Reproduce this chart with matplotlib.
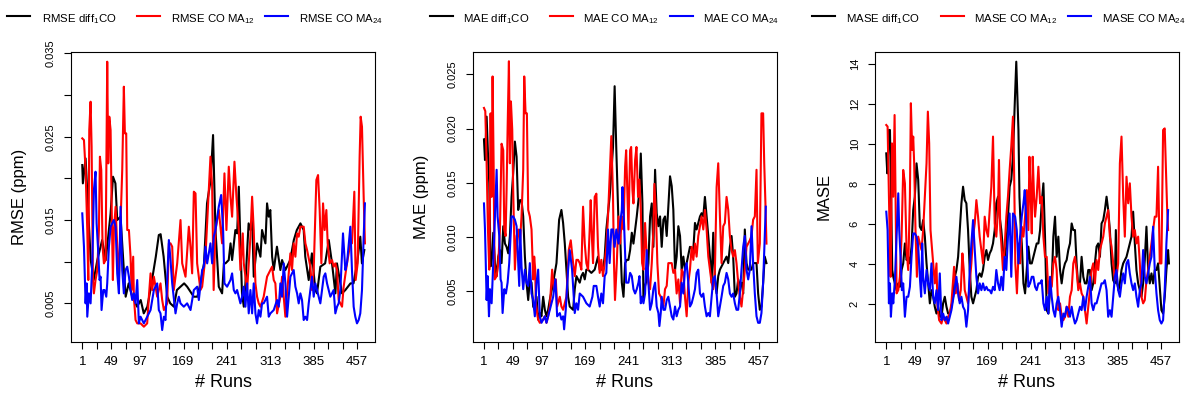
import numpy as np
import matplotlib.pyplot as plt
from matplotlib.lines import Line2D

plt.rcParams['font.family'] = ['Liberation Sans', 'DejaVu Sans']
plt.rcParams['mathtext.fontset'] = 'custom'
plt.rcParams['mathtext.rm'] = 'Liberation Sans'
plt.rcParams['mathtext.default'] = 'regular'

# x axis
tick_runs = list(range(1, 470, 24))
label_runs = [1, 49, 97, 169, 241, 313, 385, 457]

# RMSE (ppm): (run, value)
rmse_diff = [(1,.0216),(2,.0194),(6.5,.0224),(15,.0102),(20,.0078),(26,.0102),(34,.0126),(40,.0102),(48,.0158),(52,.0202),(56,.0194),(59,.0150),(64.5,.0154),(70,.0090),(73,.0058),(78,.0074),(84,.0058),(92,.0046),(98,.0054),(103,.0038),(109,.0046),(114,.0066),(123,.0106),(128,.0132),(131,.0133),(136,.0106),(142,.0058),(147,.0050),(153,.0046),(158,.0066),(164,.0070),(170,.0074),(175,.0070),(186,.0058),(192,.0058),(197,.0074),(203,.0098),(208,.0170),(214,.0198),(218,.0252),(222,.0138),(227.5,.0070),(233,.0062),(236,.0098),(238.6,.0098),(244,.0102),(247,.0122),(249.6,.0102),(255,.0138),(258,.0134),(260.7,.0190),(263.4,.0122),(266,.0062),(269,.0046),(271.7,.0074),(277,.0146),(280,.0138),(283,.0150),(285.5,.0082),(291,.0122),(296.6,.0106),(299.3,.0138),(304.9,.0122),(307.6,.0170),(310.4,.0154),(313,.0162),(316,.0106),(318.7,.0090),(324,.0118),(329.7,.0090),(332.5,.0102),(338,.0090),(346,.0102),(352,.0126),(357,.0138),(363,.0146),(368.4,.0138),(371,.0106),(376.7,.0078),(382,.0110),(387.7,.0066),(390.5,.0062),(396,.0094),(404,.0098),(410,.0126),(415.4,.0098),(421,.0062),(423.6,.0098),(432,.0062),(437.5,.0066),(446,.0074),(451,.0074),(457,.0098),(462.3,.0130),(465,.0098),(469,.0114)]
rmse_ma12 = [(1,.0248),(3.8,.0246),(6.5,.0210),(9.3,.0138),(11,.0078),(12.6,.0258),(14.8,.0292),(16.5,.0238),(18.7,.0078),(20.3,.0062),(23,.0078),(25.9,.0090),(28.6,.0138),(30.3,.0226),(32.5,.0210),(34.7,.0118),(36.9,.0098),(39.7,.0102),(42.4,.0340),(44.1,.0218),(45.8,.0274),(48,.0258),(49.6,.0174),(51.8,.0078),(53.5,.0138),(56.3,.0166),(59,.0118),(61.8,.0078),(64.5,.0146),(67.3,.0210),(70,.0310),(71.7,.0254),(73.9,.0254),(75.6,.0138),(78.4,.0138),(81.1,.0106),(82.8,.0066),(85.5,.0106),(86.6,.0058),(89.4,.0030),(92.2,.0026),(97.7,.0026),(103.2,.0022),(108.7,.0026),(111.5,.0058),(114.3,.0086),(117,.0066),(119.8,.0082),(125.3,.0058),(130.8,.0074),(133.6,.0054),(136.4,.0042),(141.9,.0050),(144.7,.0122),(147.4,.0122),(150.2,.0118),(152.9,.0066),(158.5,.0098),(164,.0150),(166.8,.0098),(172.3,.0082),(177.8,.0142),(180.6,.0118),(183.3,.0086),(186.1,.0184),(188.9,.0182),(191.6,.0098),(197.1,.0066),(199.9,.0070),(205.4,.0106),(208.2,.0146),(213.7,.0226),(216.5,.0190),(219,.0066),(222,.0138),(227.5,.0162),(233,.0122),(236.9,.0206),(240.2,.0138),(244.1,.0214),(246.9,.0178),(249.6,.0154),(253.5,.0220),(256.8,.0178),(260.7,.0138),(263.4,.0090),(267.3,.0134),(269,.0098),(274.5,.0066),(280,.0130),(282.8,.0178),(285.5,.0138),(288.3,.0074),(291,.0058),(293.8,.0050),(296.6,.0046),(302,.0058),(307.6,.0082),(310.4,.0086),(313.2,.0090),(315.9,.0094),(318.7,.0078),(321.4,.0074),(324.2,.0038),(329.7,.0058),(332.5,.0082),(338,.0034),(340.8,.0062),(346.3,.0110),(349,.0090),(351.8,.0122),(354.6,.0106),(357.4,.0134),(360.1,.0130),(362.9,.0142),(368.4,.0142),(371.2,.0122),(374,.0114),(379.5,.0094),(382.2,.0066),(385,.0090),(389.4,.0198),(392.2,.0204),(394.9,.0162),(397.7,.0098),(400.5,.0170),(403.2,.0138),(406,.0162),(408.2,.0122),(411.5,.0098),(415.4,.0102),(418.1,.0094),(420.9,.0098),(423.7,.0090),(426.4,.0054),(429.2,.0050),(432,.0046),(434.7,.0070),(440.2,.0098),(445.8,.0122),(448.5,.0122),(452.4,.0184),(454.6,.0078),(457.9,.0098),(461.2,.0226),(462.9,.0274),(465.1,.0262),(467.9,.0178),(470,.0122)]
rmse_ma24 = [(1,.0158),(3.8,.0118),(6.5,.0050),(8.2,.0074),(9.3,.0034),(12,.0062),(14.8,.0050),(17.6,.0098),(20.3,.0186),(23,.0208),(24.8,.0146),(27,.0118),(29.7,.0078),(31.4,.0082),(33,.0042),(35.8,.0066),(38,.0066),(40.8,.0058),(42.4,.0074),(45.2,.0118),(48,.0142),(50.7,.0146),(53.5,.0150),(56.3,.0142),(59,.0086),(61.8,.0062),(64.5,.0166),(67.3,.0090),(70,.0062),(72.8,.0090),(75.6,.0094),(78.4,.0082),(81.1,.0066),(83.9,.0054),(86.6,.0062),(89.4,.0050),(92.2,.0078),(94.9,.0026),(97.7,.0034),(103.2,.0026),(108.7,.0034),(114.3,.0042),(119.8,.0066),(125.3,.0074),(128,.0042),(130.8,.0038),(133.6,.0018),(136.4,.0034),(139.1,.0030),(144.7,.0126),(147.4,.0102),(150.2,.0074),(155.7,.0038),(158.5,.0050),(161.2,.0058),(164,.0050),(169.5,.0046),(175,.0050),(180.6,.0042),(186.1,.0066),(191.6,.0070),(194.4,.0054),(199.9,.0090),(202.6,.0094),(205.4,.0118),(208.2,.0098),(213.7,.0122),(216.5,.0098),(219.2,.0130),(222,.0138),(227.5,.0166),(231.4,.0180),(234.7,.0138),(236.9,.0074),(241.3,.0070),(246.9,.0078),(249.6,.0086),(252.4,.0066),(255.1,.0062),(257.9,.0066),(260.7,.0058),(263.4,.0050),(266.2,.0058),(269,.0070),(271.7,.0046),(274.5,.0074),(277.2,.0038),(280,.0066),(282.8,.0038),(285.5,.0074),(288.3,.0038),(291,.0026),(293.8,.0042),(296.6,.0034),(299.3,.0050),(302,.0050),(304.9,.0054),(307.6,.0058),(310.4,.0034),(313.2,.0038),(318.7,.0042),(324.2,.0054),(327,.0046),(329.7,.0074),(332.5,.0058),(335.2,.0098),(338,.0074),(340.8,.0034),(346.3,.0082),(351.8,.0090),(354.6,.0070),(357.4,.0062),(360.1,.0050),(362.9,.0062),(365.6,.0054),(368.4,.0030),(371.2,.0034),(374,.0030),(376.7,.0050),(382.2,.0082),(385,.0058),(387.7,.0074),(390.5,.0066),(396,.0050),(401.6,.0082),(404.3,.0086),(407.1,.0074),(409.8,.0066),(412.6,.0058),(418.1,.0066),(420.9,.0038),(423.7,.0046),(426.4,.0050),(429.2,.0066),(433.6,.0134),(437.5,.0090),(440.2,.0098),(445.8,.0142),(448.5,.0090),(451.3,.0046),(454,.0034),(456.8,.0026),(459.6,.0030),(462.3,.0038),(465.1,.0066),(467.9,.0130),(470,.0170)]

# MAE (ppm)
mae_diff = [(1,.0190),(2.7,.0171),(5.4,.0211),(8.2,.0168),(9.8,.0150),(12,.0073),(14.8,.0082),(16.4,.0104),(19.2,.0076),(22,.0064),(24.7,.0082),(27.5,.0088),(30.2,.0076),(33,.0110),(35.8,.0094),(38.5,.0091),(41.3,.0085),(44,.0101),(46.8,.0137),(49.5,.0159),(52.3,.0188),(55.1,.0174),(57.8,.0125),(60.6,.0134),(63.3,.0134),(66.1,.0119),(68.9,.0082),(71.6,.0058),(74.4,.0042),(77.1,.0061),(79.9,.0058),(82.7,.0036),(85.4,.0033),(88.2,.0045),(90.9,.0024),(93.7,.0030),(96.4,.0027),(99.2,.0045),(102,.0033),(104.7,.0027),(107.5,.0033),(110.2,.0042),(115.8,.0058),(121.3,.0076),(125.7,.0116),(129.5,.0125),(132.3,.0113),(135.1,.0094),(137.8,.0070),(140.6,.0045),(143.3,.0036),(148.9,.0033),(151.6,.0052),(154.4,.0064),(159.9,.0058),(162.6,.0064),(165.4,.0067),(168.2,.0061),(170.9,.0070),(173.7,.0070),(179.2,.0067),(184.7,.0070),(190.2,.0082),(193,.0070),(198.5,.0070),(201.3,.0082),(204,.0107),(206.8,.0122),(209.5,.0137),(212.3,.0159),(215.1,.0183),(217.8,.0239),(220.6,.0180),(224.2,.0113),(227,.0101),(229.7,.0058),(232.5,.0045),(235.2,.0076),(238,.0079),(240.7,.0079),(243.5,.0088),(246.3,.0104),(249,.0094),(254.5,.0119),(259,.0143),(261.2,.0177),(263.9,.0131),(265.6,.0042),(268.3,.0055),(271.1,.0061),(273.8,.0076),(276.6,.0119),(279.4,.0131),(282.1,.0091),(284.9,.0162),(287.6,.0122),(290.4,.0110),(293.2,.0119),(295.9,.0091),(298.7,.0116),(301.4,.0119),(304.2,.0101),(306.9,.0128),(309.7,.0156),(312.5,.0147),(315.2,.0125),(318,.0070),(320.7,.0082),(323.5,.0110),(326.3,.0101),(329,.0070),(331.8,.0082),(334.5,.0070),(337.3,.0076),(342.8,.0091),(348.3,.0088),(351.1,.0113),(353.8,.0107),(359.4,.0119),(362.1,.0122),(364.9,.0119),(367.6,.0137),(370.4,.0119),(373.2,.0101),(375.9,.0082),(378.7,.0058),(381.4,.0104),(384.2,.0061),(387,.0048),(389.7,.0064),(392.5,.0070),(398,.0076),(403.5,.0082),(406.3,.0076),(409,.0091),(411.8,.0101),(414.5,.0082),(417.3,.0045),(420,.0048),(422.8,.0061),(425.6,.0055),(428.3,.0058),(431.1,.0048),(433.8,.0107),(436.6,.0076),(439.4,.0070),(444.9,.0070),(447.6,.0076),(453.2,.0076),(455.9,.0048),(458.7,.0033),(461.4,.0036),(464.2,.0058),(466.9,.0082),(469.7,.0076)]
mae_ma12 = [(1,.0219),(3.2,.0216),(5.4,.0168),(7.6,.0107),(9.8,.0070),(12,.0214),(13.7,.0137),(15.3,.0248),(17,.0168),(18.7,.0061),(22,.0064),(24.7,.0076),(27.5,.0107),(30.2,.0186),(33,.0180),(34.7,.0107),(36.9,.0101),(38.5,.0143),(40.2,.0199),(42.4,.0262),(44,.0168),(45.7,.0225),(47.9,.0199),(49.5,.0143),(52.3,.0070),(55.1,.0101),(57.8,.0107),(60.6,.0094),(63.3,.0119),(66.1,.0162),(67.8,.0248),(70,.0214),(72.2,.0214),(74.4,.0125),(77.1,.0119),(79.9,.0107),(82.7,.0061),(84.3,.0082),(86,.0070),(87.1,.0039),(90.9,.0024),(93.7,.0021),(99.2,.0024),(102,.0027),(104.7,.0021),(107.5,.0027),(110.2,.0036),(114.1,.0070),(116.9,.0052),(120.2,.0061),(122.4,.0036),(126.8,.0045),(129.5,.0036),(132.3,.0033),(137.8,.0045),(141.7,.0088),(145,.0097),(148.9,.0076),(151.6,.0064),(154.4,.0079),(157.1,.0079),(159.9,.0076),(162.6,.0070),(165.4,.0128),(168.2,.0094),(170.9,.0076),(173.7,.0070),(176.4,.0107),(178.1,.0134),(180.3,.0097),(182,.0076),(184.7,.0137),(187.5,.0140),(190.2,.0091),(193,.0067),(195.7,.0079),(198.5,.0064),(201.3,.0076),(204,.0091),(206.8,.0119),(209.5,.0156),(212.3,.0193),(215.1,.0137),(216.7,.0076),(218.4,.0042),(221.4,.0076),(224.2,.0119),(227,.0094),(229.7,.0119),(232.5,.0107),(235.2,.0165),(236.9,.0180),(239.1,.0137),(240.7,.0107),(243.5,.0180),(245.2,.0183),(247.4,.0143),(249,.0131),(251.8,.0171),(254,.0183),(256.7,.0137),(258.9,.0153),(261.2,.0125),(263.4,.0076),(265.6,.0070),(268.3,.0113),(271.1,.0082),(273.8,.0058),(276.6,.0052),(279.4,.0076),(282.1,.0107),(283.8,.0149),(286.5,.0119),(288.7,.0076),(291.5,.0048),(294.3,.0045),(297,.0039),(298.7,.0036),(301.4,.0052),(304.2,.0055),(306.9,.0076),(312.5,.0076),(315.2,.0067),(318,.0070),(320.7,.0048),(323.5,.0061),(326.3,.0039),(329,.0070),(331.8,.0067),(334.5,.0045),(337.3,.0027),(340,.0058),(342.8,.0070),(345.6,.0091),(348.3,.0079),(351.1,.0094),(353.8,.0082),(356.6,.0101),(359.4,.0110),(362.1,.0119),(364.9,.0107),(367.6,.0125),(370.4,.0107),(373.2,.0082),(375.9,.0070),(378.7,.0058),(381.4,.0052),(384.2,.0070),(387,.0146),(389.7,.0168),(392.5,.0119),(395.2,.0076),(398,.0110),(400.7,.0113),(403.5,.0137),(406.3,.0125),(409,.0101),(411.8,.0088),(414.5,.0082),(417.3,.0088),(420,.0076),(422.8,.0058),(425.6,.0045),(428.3,.0036),(431.1,.0052),(433.8,.0070),(436.6,.0091),(439.4,.0094),(442.1,.0097),(444.9,.0101),(447.6,.0116),(450.4,.0119),(453.2,.0162),(455.4,.0076),(458.7,.0094),(461.4,.0214),(464.2,.0214),(466,.0168),(468,.0131),(469.7,.0094)]
mae_ma24 = [(1,.0131),(2.7,.0107),(5.4,.0042),(7.1,.0064),(9.3,.0027),(10.9,.0052),(13.7,.0039),(16.4,.0076),(19.2,.0119),(22,.0162),(23.6,.0119),(26.4,.0101),(28.6,.0061),(30.2,.0058),(31.9,.0030),(34.7,.0052),(37.4,.0048),(40.2,.0058),(42.9,.0076),(45.1,.0101),(46.8,.0119),(49.5,.0119),(52.3,.0116),(55.1,.0110),(57.8,.0076),(59.5,.0055),(61.1,.0107),(63.3,.0073),(66.1,.0052),(68.9,.0070),(71.6,.0058),(74.4,.0055),(77.1,.0076),(79.9,.0048),(82.7,.0042),(85.4,.0027),(88.2,.0058),(90.9,.0070),(93.7,.0027),(96.4,.0021),(99.2,.0024),(102,.0027),(104.7,.0021),(107.5,.0027),(110.2,.0033),(115.8,.0045),(119.6,.0061),(122.4,.0027),(126.8,.0030),(129.5,.0024),(132.3,.0027),(134,.0015),(136.7,.0033),(140.6,.0070),(143.3,.0088),(147.2,.0070),(150,.0045),(151.6,.0030),(154.4,.0039),(157.1,.0033),(159.9,.0048),(165.4,.0045),(170.9,.0039),(176.4,.0036),(180.9,.0045),(183.1,.0055),(187.5,.0055),(190.2,.0045),(193,.0036),(195.7,.0048),(198.5,.0039),(201.3,.0064),(204,.0067),(206.8,.0107),(209.5,.0076),(212.3,.0107),(215.1,.0107),(217.8,.0091),(220.6,.0107),(224.2,.0094),(227,.0113),(229.7,.0125),(230.8,.0146),(233.6,.0110),(236.9,.0058),(240.7,.0058),(243.5,.0067),(246.3,.0064),(249,.0052),(251.8,.0048),(254.5,.0052),(257.3,.0058),(259,.0064),(261.2,.0039),(262.8,.0045),(265.6,.0039),(268.3,.0048),(271.1,.0088),(273.8,.0058),(276.6,.0033),(279.4,.0039),(282.1,.0052),(284.9,.0058),(287.6,.0036),(290.4,.0030),(292.1,.0018),(294.3,.0030),(295.9,.0045),(298.7,.0033),(301.4,.0033),(304.2,.0042),(306.9,.0045),(309.7,.0036),(312.5,.0027),(315.2,.0024),(318,.0036),(320.7,.0027),(323.5,.0033),(326.3,.0036),(329,.0058),(331.8,.0048),(334.5,.0070),(337.3,.0076),(340,.0058),(342.8,.0036),(345.6,.0039),(348.3,.0045),(351.1,.0052),(353.8,.0067),(356.6,.0070),(359.4,.0048),(362.1,.0045),(364.9,.0048),(367.6,.0036),(370.4,.0027),(373.2,.0030),(375.9,.0027),(378.7,.0045),(381.4,.0061),(384.2,.0064),(387,.0048),(389.7,.0027),(392.5,.0036),(395.2,.0045),(398,.0055),(400.7,.0058),(403.5,.0067),(406.3,.0061),(409,.0048),(411.8,.0045),(414.5,.0048),(417.3,.0039),(420,.0033),(422.8,.0033),(425.6,.0048),(428.3,.0070),(431.1,.0091),(433.8,.0101),(436.6,.0070),(439.4,.0061),(442.1,.0070),(444.9,.0110),(447.6,.0076),(450.4,.0048),(453.2,.0027),(455.9,.0021),(458.7,.0021),(461.4,.0030),(464.2,.0058),(466.9,.0101),(468.6,.0128)]

# MASE
mase_diff = [(1,9.53),(2.7,8.53),(5.4,10.7),(7.1,10.7),(8.7,8.03),(10.9,3.69),(12.6,3.35),(15.3,3.02),(18.1,2.68),(20.9,3.02),(23.6,2.85),(26.4,3.69),(29.1,4.02),(31.9,5.02),(34.7,4.19),(37.4,4.35),(40.2,4.02),(42.9,4.86),(45.7,6.69),(48.4,7.36),(51.2,9.03),(54,8.2),(56.7,5.86),(59.5,5.69),(62.2,6.19),(65,5.36),(67.8,4.02),(70.5,3.02),(73.3,2.02),(76,2.68),(78.8,2.35),(81.5,1.85),(84.3,1.51),(87.1,1.85),(89.8,1.35),(92.6,1.35),(95.3,2.02),(98.1,2.35),(100.9,1.85),(103.6,1.51),(106.4,1.51),(109.1,1.85),(111.9,2.35),(114.7,3.35),(117.4,3.69),(120.2,4.35),(122.9,5.69),(125.7,7.03),(128.4,7.86),(131.2,7.19),(133.9,7.03),(136.7,5.69),(139.5,3.69),(142.2,2.35),(145,2.02),(147.8,2.35),(150.5,2.68),(153.3,3.35),(156,3.52),(158.8,3.35),(161.5,3.69),(164.3,4.35),(167.1,4.69),(169.8,4.19),(172.6,4.52),(175.3,4.69),(178.1,5.02),(180.9,5.69),(183.6,7.03),(186.4,7.36),(189.1,6.36),(191.9,5.69),(194.6,4.69),(197.4,4.35),(200.2,4.86),(202.9,6.36),(205.7,7.86),(208.4,8.2),(211.2,9.36),(214,11.87),(216.7,14.12),(220.3,10.7),(222,7.36),(224.2,5.69),(225.8,5.02),(228.6,3.02),(231.3,2.52),(234.1,3.69),(236.8,4.86),(239.6,4.02),(242.4,4.02),(245.1,4.35),(247.9,4.69),(250.6,5.02),(253.4,5.02),(256.2,5.69),(258.9,7.03),(261.7,8.03),(264.4,5.36),(267.2,1.68),(270,1.51),(272.7,2.68),(275.5,3.02),(278.2,5.36),(281,6.36),(283.7,4.35),(286.5,5.36),(289.3,3.69),(292,3.02),(294.8,3.69),(297.5,4.02),(300.3,4.19),(303,4.69),(305.8,5.02),(308.6,6.02),(311.3,5.69),(314.1,5.69),(316.8,4.02),(319.6,2.85),(322.4,3.02),(325.1,4.35),(327.9,3.35),(330.6,3.02),(333.4,3.02),(336.1,3.69),(338.9,3.69),(341.7,2.68),(344.4,3.02),(347.2,4.02),(349.9,4.86),(352.7,5.02),(355.5,4.35),(358.2,6.02),(361,6.19),(363.7,6.69),(366.5,7.36),(369.2,6.69),(372,5.69),(374.8,4.02),(377.5,3.18),(380.3,3.02),(381.9,5.69),(384.1,3.02),(386.4,2.68),(388.6,3.02),(391.3,3.69),(394.1,4.02),(399.6,4.35),(402.4,4.69),(405.1,5.02),(407.9,5.36),(410.6,6.61),(413.4,5.02),(416.1,3.69),(418.9,3.02),(421.7,2.68),(424.4,2.35),(427.2,3.02),(429.9,4.19),(432.7,5.86),(435.5,3.69),(438.2,3.02),(441,3.52),(443.7,3.02),(446.5,3.69),(449.3,3.69),(452,4.02),(454.8,2.85),(457.5,1.68),(460.3,1.51),(463,2.35),(465.8,3.69),(468.6,4.69),(470,4.02)]
mase_ma12 = [(1,10.95),(3.2,10.87),(4.9,8.2),(6.5,5.69),(8.2,3.35),(10.4,10.03),(12.6,7.36),(14.8,11.45),(16.4,7.36),(18.1,2.52),(20.9,2.68),(23.6,3.35),(26.4,5.36),(29.1,8.7),(31.9,8.03),(34.7,4.69),(37.4,3.69),(40.2,7.36),(41.8,12.04),(44,9.7),(45.7,10.37),(47.3,9.03),(49.5,5.69),(51.8,3.35),(54,5.36),(56.7,5.02),(59.5,4.69),(62.2,5.69),(65,7.36),(67.8,9.03),(70,11.62),(72.2,10.03),(74.4,5.69),(76.6,4.86),(78.8,4.02),(81.5,3.02),(84.3,4.02),(86,1.85),(88.7,1.18),(92.6,1.01),(95.3,1.35),(98.1,1.18),(100.9,1.01),(103.6,1.35),(106.4,1.51),(109.1,2.02),(113.5,3.85),(116.3,2.52),(119.1,3.02),(121.8,2.18),(124.6,2.68),(127.3,4.52),(129.5,3.69),(131.2,2.68),(133.9,2.35),(136.7,2.02),(139.5,3.02),(142.2,4.02),(145,5.36),(147.8,6.02),(150.5,7.19),(153.3,6.36),(156,5.36),(158.8,4.69),(161.5,4.02),(164.3,6.36),(167.1,5.69),(169.8,5.36),(172.6,6.69),(175.3,7.86),(178.1,10.37),(180.9,6.02),(183.6,5.36),(186.4,6.69),(188,9.2),(190.2,5.69),(191.9,5.02),(194.6,3.69),(197.4,4.86),(200.2,6.36),(202.9,7.36),(205.7,8.7),(208.4,9.87),(211.2,11.37),(212.9,9.03),(215.1,4.02),(217.8,2.52),(221.1,5.02),(223,4.02),(225.8,5.86),(228.6,5.36),(231.3,6.36),(234.1,7.69),(236.8,5.69),(238.5,9.36),(240.7,7.36),(242.4,5.52),(244,9.36),(246.2,7.36),(247.9,6.36),(250.6,7.36),(253.4,8.86),(256.2,7.03),(258.9,7.36),(261.7,5.36),(264.4,4.35),(267.2,4.35),(270,2.52),(272.7,3.18),(275.5,2.85),(278.2,4.02),(281,4.35),(283.7,3.69),(286.5,1.68),(289.3,2.02),(292,1.35),(294.8,1.18),(297.5,1.35),(300.3,1.85),(303,1.35),(305.8,2.35),(308.6,2.68),(311.3,4.02),(314.1,4.35),(316.8,3.69),(319.6,2.68),(322.4,3.02),(325.1,2.52),(327.9,2.35),(330.6,1.68),(333.4,1.01),(336.1,1.85),(338.9,2.68),(341.7,3.69),(344.4,4.02),(347.2,3.02),(349.9,4.19),(352.7,3.69),(355.5,4.69),(358.2,5.02),(361,5.36),(363.7,6.02),(366.5,6.36),(369.2,6.69),(372,5.36),(374.8,4.86),(377.5,4.02),(380.3,3.18),(383,3.35),(385.8,4.02),(388.6,9.03),(391.3,10.37),(394.1,7.36),(396.8,5.36),(399.6,8.36),(402.4,7.03),(405.1,8.03),(407.9,6.36),(410.6,5.36),(413.4,5.69),(416.1,5.02),(418.9,5.36),(421.7,4.02),(424.4,2.35),(427.2,2.02),(429.9,2.18),(432.7,3.18),(435.5,3.69),(438.2,4.35),(441,5.02),(443.7,5.69),(446.5,6.36),(449.3,6.36),(452,8.86),(454.8,4.02),(457.5,4.02),(460.3,10.7),(463,10.78),(464.7,9.03),(466.9,6.86),(468.6,5.69)]
mase_ma24 = [(1,6.61),(3.2,5.69),(5.4,2.02),(7.1,3.02),(8.7,1.35),(10.9,2.52),(12.6,2.02),(15.3,3.18),(18.1,5.36),(20.9,7.53),(22.5,5.69),(24.7,4.35),(26.9,2.68),(29.1,3.02),(31.9,1.35),(34.7,2.35),(37.4,2.35),(40.2,2.85),(42.9,4.35),(45.7,5.52),(48.4,5.52),(51.2,5.36),(54,4.86),(56.7,3.35),(58.9,2.35),(60.6,5.02),(62.2,3.35),(65,2.52),(67.8,3.69),(70.5,3.02),(73.3,2.68),(76,4.02),(78.8,2.35),(81.5,2.02),(84.3,2.68),(87.1,1.68),(89.8,3.52),(92.6,1.18),(95.3,1.51),(98.1,1.18),(100.9,1.35),(103.6,1.01),(106.4,1.35),(109.1,1.68),(113.5,2.52),(117.4,3.35),(120.2,2.52),(122.9,2.02),(125.7,2.35),(128.4,1.85),(131.2,1.68),(133.9,0.85),(136.7,1.68),(139.5,3.69),(142.2,5.02),(145,6.19),(147.8,4.69),(150.5,3.35),(153.3,2.52),(156,3.02),(158.8,2.68),(161.5,3.02),(164.3,2.68),(167.1,2.85),(169.8,2.68),(172.6,2.68),(175.3,2.52),(178.1,2.85),(180.9,2.68),(183.6,3.69),(186.4,3.02),(189.1,2.68),(191.9,3.35),(194.6,2.68),(197.4,4.35),(200.2,3.69),(202.9,5.36),(205.7,6.52),(208.4,3.35),(211.2,6.52),(214.8,6.36),(217.5,5.69),(220.3,4.02),(223,5.36),(225.8,6.36),(228.6,7.03),(230.8,7.69),(233,6.36),(235.2,4.02),(236.8,2.85),(239.6,3.02),(242.4,3.35),(245.1,3.35),(247.9,2.85),(250.6,2.68),(253.4,3.02),(256.2,3.02),(258.9,3.18),(261.7,2.02),(264.4,1.68),(267.2,2.35),(270,1.51),(272.7,3.35),(275.5,2.35),(278.2,1.68),(281,1.35),(283.7,2.02),(286.5,2.35),(289.3,1.68),(292,0.85),(294.8,1.51),(297.5,1.35),(300.3,1.85),(303,1.68),(305.8,1.35),(308.6,1.85),(311.3,1.35),(314.1,1.01),(316.8,1.18),(319.6,1.51),(322.4,1.85),(325.1,1.68),(327.9,2.35),(330.6,1.68),(333.4,2.35),(336.1,2.85),(338.9,3.35),(341.7,2.02),(344.4,1.68),(347.2,2.02),(349.9,2.02),(352.7,2.35),(355.5,2.68),(358.2,3.02),(361,3.02),(363.7,3.18),(366.5,2.68),(369.2,1.35),(372,1.68),(374.8,1.35),(377.5,2.35),(380.3,3.35),(383,3.69),(385.8,2.68),(388.6,2.35),(391.3,3.02),(394.1,3.52),(396.8,3.02),(399.6,4.02),(402.4,4.19),(405.1,3.52),(407.9,3.02),(410.6,2.68),(413.4,3.02),(416.1,2.35),(418.9,1.85),(421.7,2.68),(424.4,3.02),(427.2,4.69),(429.9,3.35),(432.7,3.02),(435.5,3.52),(438.2,4.02),(441,4.35),(443.7,5.86),(446.5,3.69),(449.3,2.52),(452,1.68),(454.8,1.18),(457.5,1.01),(460.3,1.18),(463,2.68),(465.8,5.02),(468.6,6.69)]

W, H = 1192, 403
fig = plt.figure(figsize=(W / 100, H / 100), dpi=100)

def fx(p):
    return p / W

def fy(p):
    return 1 - p / H

colors = ['black', 'red', 'blue']

panels = [
    dict(left=71, series=[rmse_diff, rmse_ma12, rmse_ma24], ylim=(0.0004, 0.0352),
         yticks=[0.005, 0.010, 0.015, 0.020, 0.025, 0.030, 0.035],
         ylabels=['0.005', '', '0.015', '', '0.025', '', '0.035'],
         ylabel='RMSE (ppm)', name='RMSE',
         leg=[(7.3, 41.7), (136.7, 170.7), (265, 299)]),
    dict(left=472.7, series=[mae_diff, mae_ma12, mae_ma24], ylim=(0.00036, 0.02708),
         yticks=[0.005, 0.010, 0.015, 0.020, 0.025],
         ylabels=['0.005', '0.010', '0.015', '0.020', '0.025'],
         ylabel='MAE (ppm)', name='MAE',
         leg=[(430, 463.3), (550, 583), (670, 703)]),
    dict(left=875, series=[mase_diff, mase_ma12, mase_ma24], ylim=(0.1, 14.62),
         yticks=[2, 4, 6, 8, 10, 12, 14],
         ylabels=['2', '4', '6', '8', '10', '12', '14'],
         ylabel='MASE', name='MASE',
         leg=[(811.7, 845.7), (940.7, 974.3), (1068.3, 1101.7)]),
]

for p in panels:
    ax = fig.add_axes([fx(p['left']), fy(341.7), 304 / W, 290 / H])
    for data, c in zip(p['series'], colors):
        arr = np.array(data)
        ax.plot(arr[:, 0], arr[:, 1], color=c, lw=1.5)
    ax.set_xlim(-17.7, 486.7)
    ax.set_ylim(*p['ylim'])
    ax.set_xticks(tick_runs)
    ax.set_xticklabels([str(r) if r in label_runs else '' for r in tick_runs])
    ax.set_yticks(p['yticks'])
    ax.set_yticklabels(p['ylabels'])
    ax.tick_params(direction='out', length=5, width=0.8, colors='black')
    ax.tick_params(axis='x', labelsize=9.5, pad=5)
    ax.tick_params(axis='y', labelsize=8, pad=6, labelrotation=90)
    for lab in ax.get_yticklabels():
        lab.set_va('center')
    for s in ax.spines.values():
        s.set_linewidth(0.8)
    ax.text(-51 / 304, 0.5, p['ylabel'], transform=ax.transAxes, rotation=90,
            ha='center', va='center', fontsize=12)
    ax.text(0.5, -41 / 290, '# Runs', transform=ax.transAxes,
            ha='center', va='center', fontsize=13)

    names = [p['name'] + r' diff$_1$CO', p['name'] + r' CO MA$_{12}$', p['name'] + r' CO MA$_{24}$']
    for (lx, tx), c, nm in zip(p['leg'], colors, names):
        fig.add_artist(Line2D([fx(lx), fx(lx + 23)], [fy(16), fy(16)], color=c, lw=1.5))
        fig.text(fx(tx), fy(22), nm, ha='left', va='baseline', fontsize=8.2)

fig.savefig('out.png', dpi=100)
